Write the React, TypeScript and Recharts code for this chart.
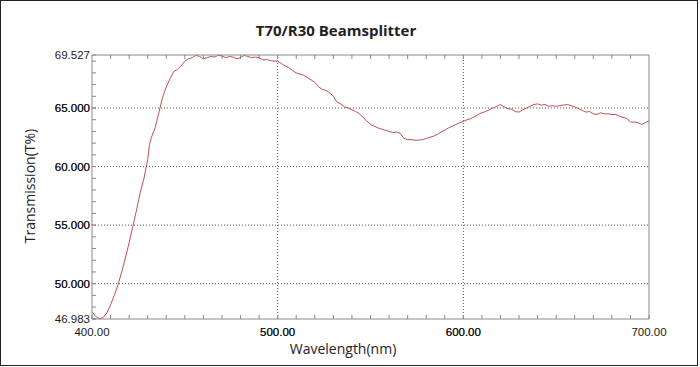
import React from "react";
import { LineChart, Line, XAxis, YAxis, ReferenceLine } from "recharts";

// ── data ───────────────────────────────────────────────────────────────────

const wavelengths = [
    400, 402, 404, 406, 408, 410, 412, 414, 416, 418, 420, 422, 424, 426, 428, 429, 430, 431, 432, 434,
    436, 438, 440, 442, 444, 446, 448, 450, 452, 454, 456, 458, 460, 462, 464, 466, 468, 470, 472, 474,
    476, 478, 480, 482, 484, 486, 488, 490, 492, 494, 496, 498, 500, 502, 504, 506, 508, 510, 512, 514,
    516, 518, 520, 522, 524, 526, 528, 530, 532, 534, 536, 538, 540, 542, 544, 546, 548, 550, 552, 554,
    556, 558, 560, 562, 564, 566, 568, 570, 572, 574, 576, 578, 580, 582, 584, 586, 588, 590, 592, 594,
    596, 598, 600, 602, 604, 606, 608, 610, 612, 614, 616, 618, 620, 622, 624, 626, 628, 630, 632, 634,
    636, 638, 640, 642, 644, 646, 648, 650, 652, 654, 656, 658, 660, 662, 664, 666, 668, 670, 672, 674,
    676, 678, 680, 682, 684, 686, 688, 690, 692, 694, 696, 698, 700,
];

const transmission = [
    47.6, 47.2, 47.0, 47.1, 47.5, 48.2, 49.0, 49.9, 51.0, 52.2, 53.5, 54.9, 56.3, 57.8, 59.0, 59.8, 60.6, 61.9, 62.5, 63.3,
    64.6, 65.9, 66.8, 67.5, 68.1, 68.3, 68.6, 69.0, 69.2, 69.3, 69.5, 69.4, 69.2, 69.3, 69.4, 69.35, 69.5, 69.45, 69.3, 69.4,
    69.35, 69.2, 69.3, 69.5, 69.4, 69.3, 69.35, 69.3, 69.1, 69.15, 69.05, 69.0, 69.0, 68.8, 68.6, 68.45, 68.2, 68.0, 67.9, 67.8,
    67.6, 67.4, 67.2, 66.8, 66.6, 66.5, 66.3, 66.0, 65.5, 65.35, 65.1, 65.0, 64.85, 64.7, 64.5, 64.2, 63.9, 63.6, 63.45, 63.3,
    63.2, 63.1, 63.0, 62.9, 62.95, 62.85, 62.4, 62.3, 62.3, 62.25, 62.25, 62.3, 62.4, 62.5, 62.6, 62.75, 62.95, 63.1, 63.3, 63.45,
    63.6, 63.75, 63.85, 64.0, 64.1, 64.25, 64.45, 64.6, 64.7, 64.85, 65.0, 65.15, 65.3, 65.1, 64.95, 64.9, 64.7, 64.65, 64.85, 65.0,
    65.15, 65.3, 65.35, 65.25, 65.3, 65.15, 65.2, 65.15, 65.2, 65.25, 65.3, 65.2, 65.1, 64.95, 64.8, 64.65, 64.7, 64.5, 64.45, 64.6,
    64.5, 64.5, 64.45, 64.45, 64.3, 64.2, 64.1, 63.8, 63.8, 63.75, 63.6, 63.75, 63.9,
];

const xDomain = [400, 700];
const yDomain = [46.983, 69.527];
const xMajorTicks = [400, 500, 600, 700];
const yMajorTicks = [46.983, 50, 55, 60, 65, 69.527];
const xGridLines = [500, 600];
const yGridLines = [50, 55, 60, 65];

// minor ticks: every 10 nm and every 1 %
const xMinorTicks = Array.from({ length: 29 }, (_, i) => 410 + i * 10);
const yMinorTicks = Array.from({ length: 23 }, (_, i) => 47 + i);

const data = wavelengths.map((wl, i) => ({ wl, t: transmission[i] }));

const AXIS = "#8a8a8a";
const GRID = "#555";
const LABEL = "#1a1a1a";

// ── ticks drawn inward ─────────────────────────────────────────────────────

function BottomTick({ x, y, payload }: any) {
    const major = xMajorTicks.includes(payload.value);
    return (
        <g>
            <line x1={x} y1={y} x2={x} y2={y - 4} stroke={AXIS} />
            {major && (
                <text x={x} y={y + 12.5} dy="0.35em" textAnchor="middle" fill={LABEL}
                    style={{ fontFamily: "Liberation Sans, Arial, sans-serif", fontSize: 11.5 }}>
                    {payload.value.toFixed(2)}
                </text>
            )}
        </g>
    );
}

function TopTick({ x, y }: any) {
    return <line x1={x} y1={y} x2={x} y2={y + 4} stroke={AXIS} />;
}

function LeftTick({ x, y, payload }: any) {
    const major = yMajorTicks.includes(payload.value);
    return (
        <g>
            <line x1={x} y1={y} x2={x + 4} y2={y} stroke={AXIS} />
            {major && (
                <text x={x - 2} y={y} dy="0.35em" textAnchor="end" fill={LABEL}
                    style={{ fontFamily: "Liberation Sans, Arial, sans-serif", fontSize: 11.5 }}>
                    {payload.value.toFixed(3)}
                </text>
            )}
        </g>
    );
}

function RightTick({ x, y }: any) {
    return <line x1={x} y1={y} x2={x - 4} y2={y} stroke={AXIS} />;
}

export default function App() {
    return (
        <div style={{ position: "absolute", left: 0, top: 0, width: 700, height: 367, background: "#fff" }}>
            <LineChart width={700} height={367} data={data} margin={{ top: 54, right: 50, bottom: 47, left: 0 }}>
                <XAxis
                    xAxisId="b"
                    dataKey="wl"
                    type="number"
                    domain={xDomain}
                    ticks={[...xMajorTicks, ...xMinorTicks].sort((a, b) => a - b)}
                    interval={0}
                    height={1}
                    tickSize={0}
                    tickMargin={0}
                    tickLine={false}
                    axisLine={{ stroke: AXIS }}
                    tick={<BottomTick />}
                />
                <XAxis
                    xAxisId="t"
                    orientation="top"
                    dataKey="wl"
                    type="number"
                    domain={xDomain}
                    ticks={xMinorTicks}
                    interval={0}
                    height={1}
                    tickSize={0}
                    tickMargin={0}
                    tickLine={false}
                    axisLine={{ stroke: AXIS }}
                    tick={<TopTick />}
                />
                <YAxis
                    yAxisId="l"
                    type="number"
                    domain={yDomain}
                    ticks={[...yMajorTicks, ...yMinorTicks].sort((a, b) => a - b)}
                    interval={0}
                    width={92}
                    tickSize={0}
                    tickMargin={0}
                    tickLine={false}
                    axisLine={{ stroke: AXIS }}
                    tick={<LeftTick />}
                />
                <YAxis
                    yAxisId="r"
                    orientation="right"
                    type="number"
                    domain={yDomain}
                    ticks={yMinorTicks}
                    interval={0}
                    width={1}
                    tickSize={0}
                    tickMargin={0}
                    tickLine={false}
                    axisLine={{ stroke: AXIS }}
                    tick={<RightTick />}
                />
                {yGridLines.map((v) => (
                    <ReferenceLine key={"y" + v} xAxisId="b" yAxisId="l" y={v} stroke={GRID} strokeDasharray="1 2" />
                ))}
                {xGridLines.map((v) => (
                    <ReferenceLine key={"x" + v} xAxisId="b" yAxisId="l" x={v} stroke={GRID} strokeDasharray="1 2" />
                ))}
                <Line
                    xAxisId="b"
                    yAxisId="l"
                    dataKey="t"
                    type="linear"
                    stroke="#c0504d"
                    strokeWidth={1}
                    dot={false}
                    isAnimationActive={false}
                />
            </LineChart>

            {/* frame */}
            <div style={{ position: "absolute", left: 0, top: 0, width: 698, height: 366, border: "1px solid #222", boxSizing: "border-box", pointerEvents: "none" }} />

            {/* title */}
            <div style={{ position: "absolute", left: 0, top: 20, width: 672, lineHeight: "20px", textAlign: "center", fontFamily: "Open Sans", fontWeight: 700, fontSize: 15, color: "#222" }}>
                T70/R30 Beamsplitter
            </div>

            {/* axis titles */}
            <div style={{ position: "absolute", left: 243, top: 339, width: 200, lineHeight: "20px", textAlign: "center", fontFamily: "Open Sans", fontSize: 14, color: "#222" }}>
                Wavelength(nm)
            </div>
            <div style={{ position: "absolute", left: -70.4, top: 176, width: 200, lineHeight: "20px", textAlign: "center", fontFamily: "Open Sans", fontSize: 14, color: "#222", transform: "rotate(-90deg)" }}>
                Transmission(T%)
            </div>
        </div>
    );
}
